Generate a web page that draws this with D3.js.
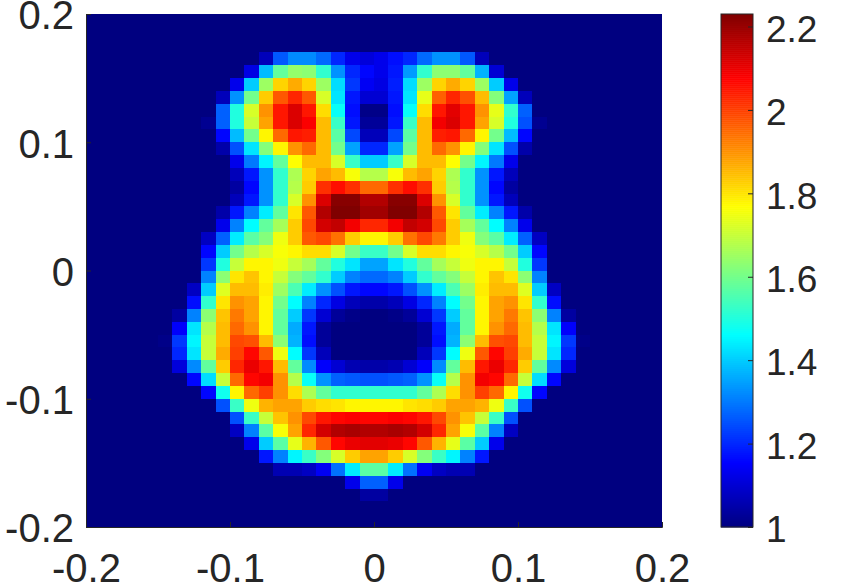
<!DOCTYPE html>
<html><head><meta charset="utf-8">
<script src="https://cdn.jsdelivr.net/npm/d3@7/dist/d3.min.js"></script>
<style>html,body{margin:0;padding:0;background:#fff}svg{display:block}
text{font-family:"Liberation Sans",Arial,sans-serif;fill:#262626}</style>
</head><body><svg id="c" width="842" height="588"></svg>
<script>
const xTicks=[-0.2,-0.1,0,0.1,0.2];
const yTicks=[-0.2,-0.1,0,0.1,0.2];
const cbTicks=[1,1.2,1.4,1.6,1.8,2,2.2];
const cbDomain=[1,2.23];
const gridSize=40;
const baseValue=1;
// each row: first column index, then values from that column onward (others are baseValue)
const rowStart={3:12,4:11,5:10,6:9,7:9,8:8,9:9,10:9,11:10,12:10,13:10,14:10,15:9,16:9,17:8,18:8,19:8,20:8,21:7,22:7,23:6,24:6,25:5,26:6,27:6,28:7,29:8,30:9,31:10,32:10,33:11,34:12,35:13,36:18,37:19};
const rowValues={
3:[1.07,1.26,1.32,1.32,1.28,1.2,1.13,1.11,1.13,1.17,1.2,1.28,1.33,1.33,1.26,1.07],
4:[1.12,1.38,1.58,1.64,1.63,1.52,1.33,1.2,1.16,1.13,1.18,1.34,1.52,1.63,1.63,1.58,1.37,1.1],
5:[1.13,1.4,1.65,1.82,1.87,1.82,1.65,1.42,1.22,1.14,1.12,1.19,1.42,1.65,1.82,1.87,1.82,1.65,1.4,1.13],
6:[1.07,1.33,1.6,1.83,1.97,2.03,1.97,1.72,1.43,1.18,1.1,1.1,1.18,1.43,1.74,1.96,2.03,1.98,1.85,1.62,1.35,1.07],
7:[1.27,1.5,1.72,1.9,2.05,2.12,2.05,1.81,1.47,1.17,1.01,1.01,1.17,1.47,1.81,2.05,2.11,2.05,1.9,1.74,1.52,1.27],
8:[1.02,1.27,1.5,1.7,1.88,2.05,2.12,2.08,1.85,1.53,1.18,1.03,1.03,1.18,1.53,1.85,2.09,2.12,2.05,1.88,1.72,1.5,1.25,1.02],
9:[1.16,1.38,1.6,1.78,1.95,2.05,2.04,1.85,1.57,1.24,1.07,1.07,1.24,1.57,1.85,2.04,2.05,1.95,1.78,1.6,1.38,1.16],
10:[1.05,1.25,1.43,1.62,1.78,1.9,1.95,1.85,1.6,1.35,1.2,1.2,1.35,1.6,1.85,1.95,1.9,1.78,1.62,1.43,1.25,1.05],
11:[1.13,1.3,1.45,1.58,1.77,1.85,1.85,1.72,1.53,1.4,1.4,1.53,1.72,1.85,1.85,1.77,1.6,1.45,1.3,1.13],
12:[1.07,1.18,1.33,1.52,1.67,1.82,1.88,1.85,1.76,1.68,1.68,1.76,1.85,1.88,1.82,1.67,1.52,1.33,1.18,1.07],
13:[1.04,1.16,1.33,1.52,1.68,1.83,2.02,2.06,2.02,1.95,1.95,2.02,2.06,2.02,1.83,1.68,1.52,1.33,1.16,1.04],
14:[1.07,1.18,1.33,1.52,1.72,1.9,2.12,2.22,2.22,2.17,2.17,2.22,2.22,2.12,1.9,1.72,1.52,1.33,1.18,1.07],
15:[1.05,1.18,1.31,1.44,1.58,1.8,1.97,2.17,2.23,2.23,2.19,2.19,2.23,2.23,2.17,1.97,1.8,1.58,1.44,1.31,1.18,1.05],
16:[1.13,1.31,1.46,1.58,1.66,1.83,1.99,2.13,2.15,2.09,2.03,2.03,2.09,2.15,2.13,1.99,1.83,1.66,1.58,1.46,1.31,1.13],
17:[1.08,1.27,1.44,1.57,1.62,1.75,1.83,1.97,1.99,1.94,1.83,1.78,1.78,1.83,1.94,1.99,1.93,1.83,1.75,1.62,1.57,1.44,1.27,1.08],
18:[1.16,1.4,1.6,1.68,1.72,1.76,1.78,1.81,1.81,1.72,1.6,1.53,1.53,1.6,1.72,1.81,1.81,1.78,1.76,1.72,1.68,1.6,1.4,1.16],
19:[1.22,1.5,1.7,1.78,1.78,1.75,1.7,1.66,1.58,1.5,1.43,1.35,1.35,1.43,1.5,1.58,1.66,1.7,1.75,1.78,1.78,1.7,1.5,1.22],
20:[1.31,1.63,1.8,1.84,1.78,1.7,1.62,1.58,1.52,1.4,1.31,1.28,1.28,1.31,1.4,1.52,1.58,1.62,1.7,1.78,1.84,1.8,1.63,1.31],
21:[1.08,1.4,1.73,1.85,1.85,1.79,1.65,1.55,1.44,1.33,1.25,1.18,1.16,1.16,1.18,1.25,1.33,1.44,1.55,1.65,1.79,1.85,1.85,1.73,1.4,1.08],
22:[1.17,1.52,1.8,1.9,1.88,1.78,1.6,1.46,1.31,1.2,1.12,1.07,1.05,1.05,1.07,1.12,1.2,1.31,1.46,1.6,1.78,1.88,1.9,1.8,1.52,1.17],
23:[1.04,1.31,1.63,1.84,1.93,1.88,1.78,1.58,1.4,1.22,1.1,1.03,1.01,1,1,1.01,1.03,1.1,1.22,1.4,1.58,1.78,1.88,1.93,1.84,1.63,1.31,1.04],
24:[1.15,1.43,1.68,1.85,1.95,1.9,1.78,1.58,1.36,1.18,1.03,1,1,1,1,1,1,1.03,1.18,1.36,1.58,1.78,1.9,1.95,1.85,1.68,1.43,1.15],
25:[1.01,1.22,1.45,1.7,1.85,1.99,1.98,1.85,1.63,1.37,1.17,1.03,1,1,1,1,1,1,1.03,1.17,1.37,1.63,1.85,1.98,1.99,1.85,1.7,1.45,1.22,1.01],
26:[1.2,1.43,1.7,1.87,2,2.07,1.97,1.75,1.46,1.22,1.07,1,1,1,1,1,1,1.07,1.22,1.46,1.75,1.97,2.07,2,1.87,1.7,1.43,1.2],
27:[1.11,1.32,1.58,1.83,2.03,2.1,2.05,1.85,1.58,1.32,1.15,1.1,1.06,1.05,1.05,1.06,1.1,1.15,1.32,1.58,1.85,2.05,2.1,2.03,1.83,1.58,1.32,1.11],
28:[1.16,1.42,1.7,1.95,2.07,2.09,1.9,1.68,1.47,1.33,1.27,1.26,1.25,1.25,1.26,1.27,1.33,1.47,1.68,1.9,2.09,2.07,1.95,1.7,1.42,1.16],
29:[1.16,1.48,1.78,1.95,2,1.9,1.81,1.67,1.58,1.52,1.52,1.52,1.52,1.52,1.52,1.58,1.67,1.81,1.9,2,1.95,1.78,1.48,1.16],
30:[1.25,1.53,1.75,1.86,1.88,1.88,1.83,1.81,1.8,1.78,1.78,1.78,1.78,1.8,1.81,1.83,1.88,1.88,1.86,1.75,1.53,1.25],
31:[1.25,1.53,1.7,1.84,1.9,1.99,2.05,2.07,2.08,2.07,2.07,2.08,2.07,2.05,1.99,1.9,1.84,1.7,1.53,1.25],
32:[1.08,1.31,1.57,1.76,1.88,2.03,2.13,2.17,2.18,2.17,2.17,2.18,2.17,2.13,2.03,1.88,1.76,1.57,1.31,1.08],
33:[1.13,1.4,1.57,1.74,1.86,1.97,2.07,2.1,2.11,2.11,2.1,2.07,1.97,1.86,1.74,1.57,1.4,1.13],
34:[1.18,1.31,1.45,1.53,1.62,1.72,1.83,1.88,1.88,1.83,1.72,1.62,1.53,1.45,1.31,1.18],
35:[1.06,1.06,1.08,1.14,1.29,1.44,1.57,1.57,1.44,1.29,1.14,1.08,1.06,1.06],
36:[1.13,1.27,1.27,1.13],
37:[1.04,1.04]
};
const jetT=[0,0.125,0.375,0.625,0.875,1];
const jetColors=["#000080","#0000ff","#00ffff","#ffff00","#ff0000","#800000"];

const svg=d3.select("#c");
const L=86,R=662,T=14,B=527,CL=721,CR=753;
const x=d3.scaleLinear().domain([-0.2,0.2]).range([L,R]);
const y=d3.scaleLinear().domain([-0.2,0.2]).range([B,T]);
const col=d3.scaleLinear().domain([0,gridSize]).range([L,R]);
const row=d3.scaleLinear().domain([0,gridSize]).range([T,B]);
const color=d3.scaleLinear().domain(jetT.map(t=>cbDomain[0]+t*(cbDomain[1]-cbDomain[0]))).range(jetColors).clamp(true);
const cb=d3.scaleLinear().domain(cbDomain).range([B,T]);

svg.append("rect").attr("x",L).attr("y",T).attr("width",R-L).attr("height",B-T).attr("fill",color(baseValue));
const cells=[];
Object.keys(rowValues).forEach(r=>rowValues[r].forEach((v,i)=>cells.push({r:+r,c:rowStart[r]+i,v})));
svg.append("g").attr("shape-rendering","crispEdges").selectAll("rect").data(cells).join("rect")
  .attr("x",d=>col(d.c)).attr("y",d=>row(d.r))
  .attr("width",d=>col(d.c+1)-col(d.c)).attr("height",d=>row(d.r+1)-row(d.r))
  .attr("fill",d=>color(d.v));

function styleAxis(g,size){
  g.selectAll("path.domain").attr("stroke","#262626").attr("stroke-width",1);
  g.selectAll(".tick line").attr("stroke","#262626").attr("stroke-width",1);
  g.selectAll("text").style("font-size",size+"px").style("font-family",'"Liberation Sans",Arial,sans-serif').attr("fill","#262626");
}
const fmt=d=>String(d);
const xa=svg.append("g").attr("transform",`translate(0,${B})`).call(d3.axisBottom(x).tickValues(xTicks).tickFormat(fmt).tickSize(-5).tickPadding(27));
styleAxis(xa,40);
const ya=svg.append("g").attr("transform",`translate(${L},0)`).call(d3.axisLeft(y).tickValues(yTicks).tickFormat(fmt).tickSize(-5).tickPadding(12));
styleAxis(ya,40); ya.selectAll("text").attr("dy","0.37em");

// colorbar
const nLevels=256;
const step=(cbDomain[1]-cbDomain[0])/nLevels;
const levels=d3.range(nLevels).map(i=>cbDomain[0]+(i+0.5)*step);
svg.append("g").selectAll("rect").data(levels).join("rect")
  .attr("x",CL).attr("width",CR-CL).attr("y",d=>cb(d+step/2)).attr("height",d=>cb(d-step/2)-cb(d+step/2)+0.5).attr("fill",d=>color(d));
svg.append("rect").attr("x",CL).attr("y",T).attr("width",CR-CL).attr("height",B-T).attr("fill","none").attr("stroke","#262626");
const ca=svg.append("g").attr("transform",`translate(${CR},0)`).call(d3.axisRight(cb).tickValues(cbTicks).tickFormat(fmt).tickSize(-5).tickPadding(13));
styleAxis(ca,37); ca.select("path.domain").remove(); ca.selectAll("text").attr("dy","0.4em");
</script></body></html>
